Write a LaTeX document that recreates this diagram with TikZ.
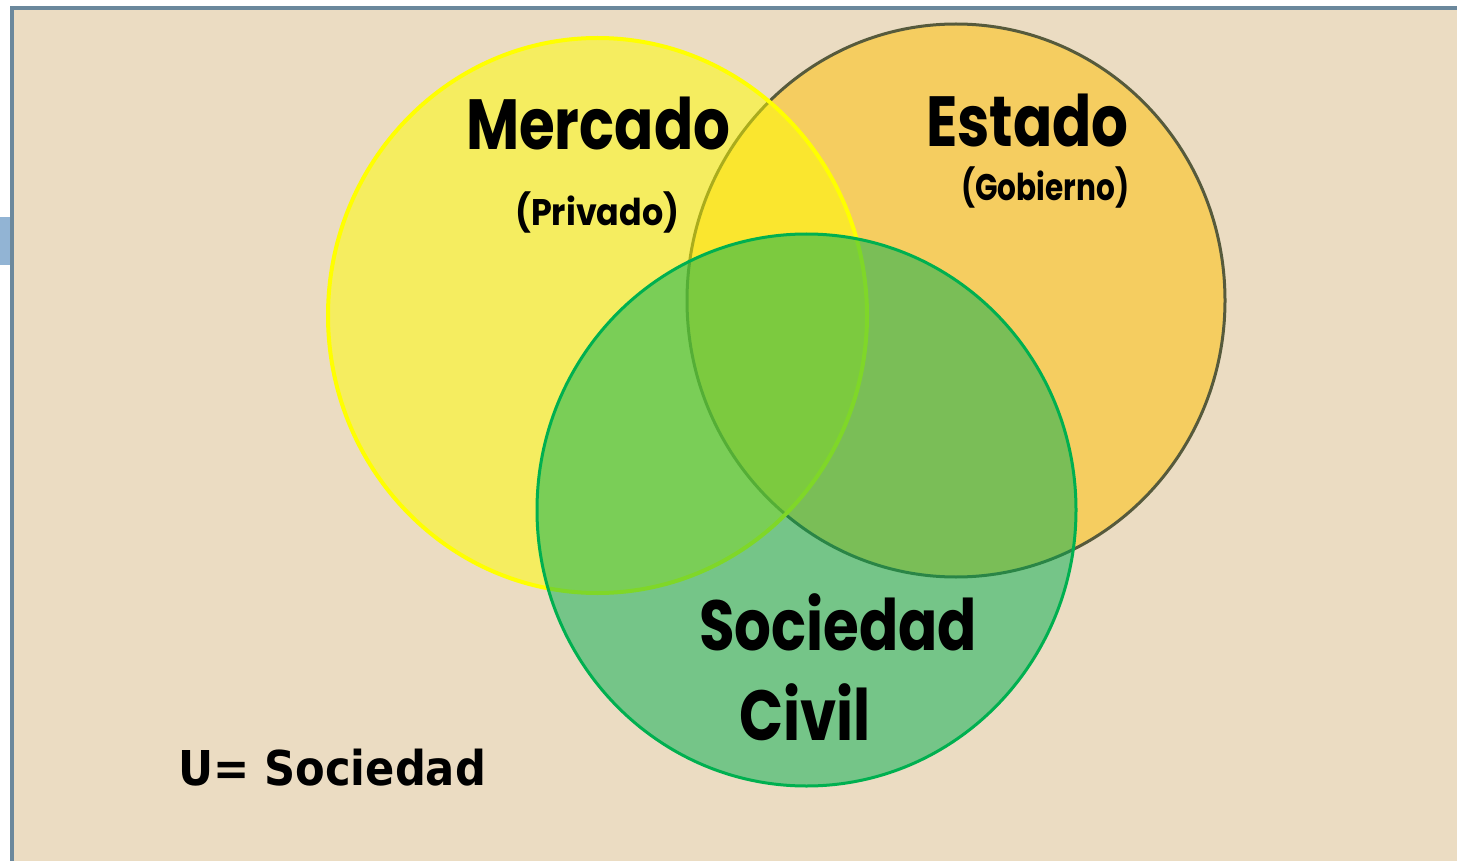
\documentclass[tikz,border=0pt]{standalone}
\usepackage{fontspec}
\newfontfamily\headfont[FakeStretch=0.815]{Poppins}
\newfontfamily\subfont[FakeStretch=0.85]{Poppins}
\newfontfamily\ufont[FakeStretch=0.90]{DejaVu Sans}
\definecolor{bgbeige}{HTML}{EBDCC2}
\definecolor{frameblue}{HTML}{6B889C}
\definecolor{tabblue}{HTML}{92B4D4}
\definecolor{mercadofill}{HTML}{FFFF00}
\definecolor{estadofill}{HTML}{FFC000}
\definecolor{estadoline}{HTML}{565A3C}
\definecolor{civilfill}{HTML}{00B050}
\tikzset{
  venn/.style={fill opacity=0.5, draw opacity=1},
  bigtitle/.style={anchor=base west, inner sep=0pt, font=\headfont\bfseries\fontsize{71}{71}\selectfont},
  subtitle/.style={anchor=base west, inner sep=0pt, font=\subfont\bfseries\fontsize{37}{37}\selectfont},
  utitle/.style={anchor=base west, inner sep=0pt, font=\ufont\bfseries\fontsize{48}{48}\selectfont}
}
\begin{document}
\begin{tikzpicture}[x=1pt,y=-1pt]
\useasboundingbox (0,0) rectangle (1457,861);
\fill[white] (0,0) rectangle (1457,861);
\fill[bgbeige] (14,10) rectangle (1457,861);
\fill[frameblue] (10,6) rectangle (1457,10);
\fill[frameblue] (10,6) rectangle (14,861);
\fill[tabblue] (0,217) rectangle (10,265);
% circles
\draw[venn, fill=estadofill, draw=estadoline, line width=3pt] (956,300.5) ellipse [x radius=269pt, y radius=276.5pt];
\draw[venn, fill=mercadofill, draw=mercadofill, line width=4pt] (597.5,315.5) ellipse [x radius=269.5pt, y radius=277.5pt];
\draw[venn, fill=civilfill, draw=civilfill, line width=3pt] (806.5,510) ellipse [x radius=269.5pt, y radius=276pt];
% texts
\node[bigtitle] (mercado) at (466,150) {Mercado};
\node[subtitle] (privado) at (515,226) {\scalebox{1.06}[1]{(Privado)}};
\node[bigtitle] (estado) at (926,147) {Estado};
\node[subtitle] (gobierno) at (961,201) {\scalebox{0.94}[1]{(Gobierno)}};
\node[bigtitle] (sociedad) at (699,650) {Sociedad};
\node[bigtitle] (civil) at (739,740) {Civil};
\node[utitle] (universo) at (178,785) {U= Sociedad};
\end{tikzpicture}
\end{document}
